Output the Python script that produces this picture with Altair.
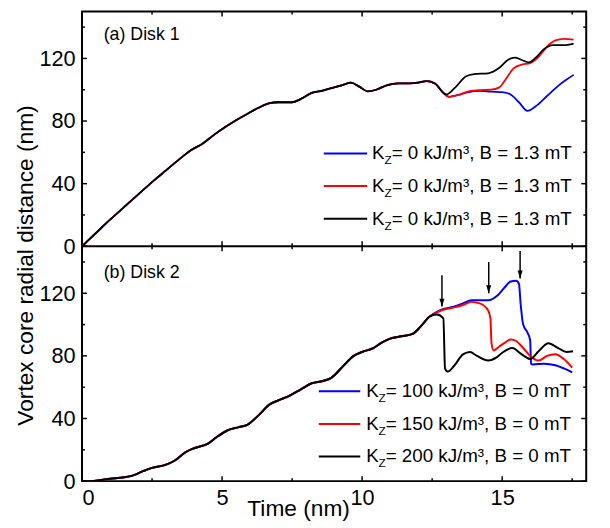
import altair as alt
import pandas as pd

# ---------------- data ----------------
# Panel (a) Disk 1 : common part of the three curves
a_common_t = [0, 0.5, 1.0, 1.5, 2.0, 2.5, 3.0, 3.5, 3.9, 4.3, 4.7, 5.1, 5.5, 5.9, 6.3, 6.7, 7.0, 7.5,
              7.8, 8.2, 8.6, 9.0, 9.3, 9.6, 9.9, 10.2, 10.5, 10.9, 11.3, 11.7, 12.0, 12.3, 12.6]
a_common_r = [0, 8.5, 17, 25, 33, 41, 48.5, 56, 61.5, 65.5, 71, 76, 80.5, 84.5, 88.5, 91.5, 92, 92,
              94, 98, 99.5, 101.5, 103, 104.5, 102, 99, 100, 103, 104, 104, 104.5, 105.5, 104]
a_blue_t = [12.9, 13.1, 13.4, 13.8, 14.2, 14.6, 15.0, 15.3, 15.6, 15.9, 16.2, 16.6, 17.0, 17.3, 17.55]
a_blue_r = [98, 95.5, 96.5, 98.5, 99.3, 98.8, 98.5, 97, 92, 86.5, 89.5, 96, 102.5, 106.5, 109.5]
a_red_t = [12.9, 13.1, 13.4, 13.8, 14.2, 14.6, 14.9, 15.1, 15.4, 15.7, 16.0, 16.3, 16.6, 16.9, 17.2, 17.55]
a_red_r = [98, 95.5, 96.5, 99, 99.8, 100, 101.5, 106, 113.5, 116, 117, 121, 127.5, 131.5, 132.5, 132]
a_black_t = [12.9, 13.0, 13.3, 13.7, 14.0, 14.5, 14.9, 15.2, 15.45, 15.7, 15.95, 16.2, 16.5, 16.8, 17.2, 17.55]
a_black_r = [98, 97, 101, 108.5, 110, 110.5, 114, 119, 120.5, 119, 117.5, 120.5, 126, 128.5, 128.5, 129.5]

# Panel (b) Disk 2 : common part
b_common_t = [0, 0.5, 1.0, 1.5, 1.8, 2.2, 2.5, 3.0, 3.3, 3.7, 4.0, 4.5, 4.8, 5.2, 5.6, 5.9, 6.3, 6.7,
              7.0, 7.4, 7.8, 8.2, 8.6, 8.9, 9.3, 9.7, 10.0, 10.4, 10.7, 11.0, 11.4, 11.8, 12.1, 12.4]
b_common_r = [0, 0.3, 1.5, 2.5, 3.5, 6.5, 8.5, 10.5, 13, 18.5, 21, 24, 28, 32.5, 34.5, 36, 42, 49,
              51.5, 54.5, 58.5, 62.5, 64, 66, 73, 80, 82.5, 85, 88.5, 91, 92.5, 94, 99, 105]
b_blue_t = [12.7, 12.9, 13.3, 13.6, 13.9, 14.2, 14.5, 14.86, 15.1, 15.3, 15.5, 15.6, 15.66, 15.75,
            15.9, 16.0, 16.03, 16.1, 16.5, 16.9, 17.2, 17.5]
b_blue_r = [108.5, 110, 111.5, 113.5, 115.5, 115.5, 115.5, 119, 124, 127.5, 128, 126, 113, 100,
            95, 90, 75, 74.5, 75, 74, 72, 69.5]
b_red_t = [12.7, 12.9, 13.3, 13.6, 13.9, 14.2, 14.5, 14.58, 14.62, 14.7, 14.9, 15.1, 15.3, 15.5,
           15.7, 16.0, 16.3, 16.6, 16.9, 17.2, 17.5]
b_red_r = [108, 109.5, 111, 112.5, 114.5, 113.5, 109, 104, 88, 83.5, 86, 88.5, 90.5, 89.5,
           86, 80, 77, 80, 81, 78, 72.5]
b_black_t = [12.67, 12.9, 12.96, 13.05, 13.3, 13.6, 13.85, 14.1, 14.5, 14.8, 15.0, 15.36, 15.7,
             16.0, 16.3, 16.65, 17.0, 17.3, 17.53]
b_black_r = [106.5, 104, 72, 70, 74, 81, 82.5, 80, 77, 79, 82, 85, 81, 78, 83, 88, 85, 82.5, 83]

arrow_t = [12.85, 14.52, 15.64]
arrow_top = [131.5, 140, 147]
arrow_tip = [111.5, 120, 129.5]

legend_a = ["= 0 kJ/m³, B = 1.3 mT", "= 0 kJ/m³, B = 1.3 mT", "= 0 kJ/m³, B = 1.3 mT"]
legend_b = ["= 100 kJ/m³, B = 0 mT", "= 150 kJ/m³, B = 0 mT", "= 200 kJ/m³, B = 0 mT"]
colors = ["#0000ff", "#ff0000", "#000000"]

x_major = [0, 5, 10, 15]
x_minor = [2.5, 7.5, 12.5, 17.5]
y_major = [0, 40, 80, 120]
y_minor = [20, 60, 100, 140]

# ---------------- layout ----------------
W, H = 511, 476
HALF = H / 2
OFF = 150          # panel (a) drawn above panel (b) on a shared 0..300 scale
FONT = "Liberation Sans"

x_scale = alt.Scale(domain=[0, 18], nice=False, zero=False)
y_scale = alt.Scale(domain=[0, 300], nice=False, zero=False)

x_axis = alt.Axis(values=x_major, format="d", title="Time (nm)", grid=False, ticks=False,
                  domain=False, labelPadding=7, labelFontSize=22, titleFontSize=23,
                  titleX=219, titleY=35, titleBaseline="alphabetic", labelOverlap=False)
y_axis = alt.Axis(values=[v for v in y_major] + [v + OFF for v in y_major],
                  labelExpr="datum.value >= 150 ? datum.value - 150 : datum.value",
                  title="Vortex core radial distance (nm)", grid=False, ticks=False,
                  domain=False, labelPadding=7, labelFontSize=22, titleFontSize=23,
                  titleX=-50, titleY=257, titleBaseline="alphabetic", labelOverlap=False)

X = lambda f: alt.X(f, type="quantitative", scale=x_scale, axis=x_axis)
Y = lambda f: alt.Y(f, type="quantitative", scale=y_scale, axis=y_axis)

layers = []


def line_layer(t, r, color, offset, sw):
    df = pd.DataFrame({"t": t, "r": r})
    return (alt.Chart(df)
            .transform_calculate(y=f"datum.r + {offset}")
            .mark_line(color=color, strokeWidth=sw, clip=True, interpolate="monotone")
            .encode(x=X("t"), y=Y("y")))


# panel (a) : blue, red, black (black on top)
for (tt, rr), c in zip([(a_blue_t, a_blue_r), (a_red_t, a_red_r), (a_black_t, a_black_r)], colors):
    layers.append(line_layer(a_common_t + tt, a_common_r + rr, c, OFF, 1.8))
# panel (b)
for (tt, rr), c in zip([(b_blue_t, b_blue_r), (b_red_t, b_red_r), (b_black_t, b_black_r)], colors):
    layers.append(line_layer(b_common_t + tt, b_common_r + rr, c, 0, 2))

# arrows in panel (b)
arr = pd.DataFrame({"t": arrow_t, "top": arrow_top, "tip": arrow_tip})
layers.append(alt.Chart(arr).mark_rule(color="black", strokeWidth=1.5)
              .encode(x=X("t"), y=Y("top"), y2="tip:Q"))
layers.append(alt.Chart(arr).mark_point(shape="M-0.32,-1L0.32,-1L0,0Z", size=256, filled=True,
                                        color="black", opacity=1)
              .encode(x=X("t"), y=Y("tip")))

# middle separator between panels
layers.append(alt.Chart(pd.DataFrame({"y": [OFF]})).mark_rule(color="black", strokeWidth=2)
              .encode(y=Y("y"), x=alt.value(0), x2=alt.value(W)))

# inward ticks on x (bottom, middle up/down, top)
for base, d in [(H, -1), (HALF, -1), (HALF, 1), (0, 1)]:
    for vals, L in [(x_major, 5), (x_minor, 3)]:
        layers.append(alt.Chart(pd.DataFrame({"t": vals})).mark_rule(color="black", strokeWidth=1.5)
                      .encode(x=X("t"), y=alt.value(base), y2=alt.value(base + d * L)))
# inward ticks on y (left and right, both panels)
for off in [0, OFF]:
    for vals, L in [(y_major, 5), (y_minor, 3)]:
        df = pd.DataFrame({"v": vals}).assign(y=lambda d, o=off: d.v + o)
        for base, d in [(0, 1), (W, -1)]:
            layers.append(alt.Chart(df).mark_rule(color="black", strokeWidth=1.5)
                          .encode(y=Y("y"), x=alt.value(base), x2=alt.value(base + d * L)))


def text_layer(s, x, y, size, baseline="middle"):
    return (alt.Chart(pd.DataFrame({"s": [s]}))
            .mark_text(align="left", baseline=baseline, fontSize=size, font=FONT, color="black")
            .encode(text="s:N", x=alt.value(x), y=alt.value(y)))


# panel labels
layers.append(text_layer("(a) Disk 1", 22, 24, 18))
layers.append(text_layer("(b) Disk 2", 22, 265, 18))

# legends
def legend(rows, texts, lx0, lx1, tx):
    out = []
    for yy, txt, c in zip(rows, texts, colors):
        out.append(alt.Chart(pd.DataFrame({"k": [0]})).mark_rule(color=c, strokeWidth=2)
                   .encode(x=alt.value(lx0), x2=alt.value(lx1), y=alt.value(yy)))
        out.append(text_layer("K", tx, yy, 19))
        out.append(text_layer("Z", tx + 12.6, yy + 7, 12))
        out.append(text_layer(txt, tx + 19.8, yy, 19))
    return out


layers += legend([144, 177, 210], legend_a, 245, 289, 294)
layers += legend([385, 418, 451], legend_b, 240, 282, 288)

chart = (alt.layer(*layers)
         .properties(width=W, height=H, autosize=alt.AutoSizeParams(type="none"),
                     padding={"left": 75, "top": 0, "right": 16, "bottom": 44})
         .configure_view(stroke="black", strokeWidth=2)
         .configure_axis(labelFont=FONT, titleFont=FONT, labelColor="black", titleColor="black",
                         titleFontWeight="normal")
         .configure_text(font=FONT))

chart.save("out.html", embed_options={"renderer": "svg", "actions": False})
